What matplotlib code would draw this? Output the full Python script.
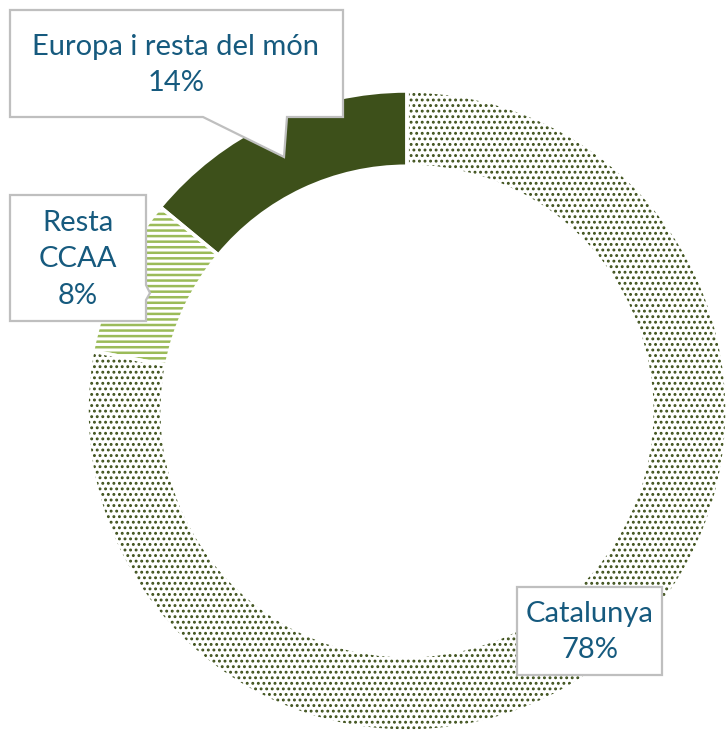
import matplotlib
matplotlib.use("Agg")
import matplotlib.pyplot as plt
from matplotlib.patches import Polygon

categories = ["Catalunya", "Resta\nCCAA", "Europa i resta del món"]
values = [78, 8, 14]
labels_pct = ["78%", "8%", "14%"]

dark_green = "#3d501a"
light_green = "#9bbb59"
text_color = "#165a7e"
border_gray = "#bfbfbf"

W, H = 726, 733
CX, CY, R = 407, 411, 320

fig = plt.figure(figsize=(W / 100, H / 100), dpi=100)
ax = fig.add_axes([0, 0, 1, 1])

def px(x, y):
    return ((x - CX) / R, (CY - y) / R)

width = 0.235
face = ["white", "white", dark_green]
hatch_col = [dark_green, light_green, dark_green]
hatches = ["...", "---", None]
hatch_lw = [1.3, 1.8, 1.0]

with plt.rc_context({"hatch.linewidth": 1.5}):
    wedges, _ = ax.pie(values, startangle=90, counterclock=False, radius=1,
                       wedgeprops=dict(width=width, linewidth=0))
for w, fc, hc, h, lw in zip(wedges, face, hatch_col, hatches, hatch_lw):
    w.set_facecolor(fc)
    w.set_edgecolor(hc)
    if h:
        w.set_hatch(h)
        if hasattr(w, "set_hatch_linewidth"):
            w.set_hatch_linewidth(lw)

sep, _ = ax.pie(values, startangle=90, counterclock=False, radius=1,
                wedgeprops=dict(width=width, linewidth=2.5, edgecolor="white",
                                facecolor="none"))

ax.set_xlim(-CX / R, (W - CX) / R)
ax.set_ylim(-(H - CY) / R, CY / R)
ax.set_aspect("equal")
ax.axis("off")

def callout(pts, text, tx, ty):
    poly = Polygon([px(x, y) for x, y in pts], closed=True, facecolor="white",
                   edgecolor=border_gray, linewidth=1.6, zorder=5)
    ax.add_patch(poly)
    ax.text(*px(tx, ty), text, ha="center", va="center", color=text_color,
            fontsize=21, family="Lato", linespacing=1.5, zorder=6)

callout([(10, 10), (343, 10), (343, 117), (287, 117), (284, 157), (203, 117), (10, 117)],
        f"{categories[2]}\n{labels_pct[2]}", 176, 65)
callout([(10, 195), (146, 195), (146, 285), (150, 293), (146, 300), (146, 321), (10, 321)],
        f"{categories[1]}\n{labels_pct[1]}", 78, 259)
callout([(517, 587), (662, 587), (662, 675), (517, 675)],
        f"{categories[0]}\n{labels_pct[0]}", 590, 632)

fig.savefig("out.png", dpi=100)
